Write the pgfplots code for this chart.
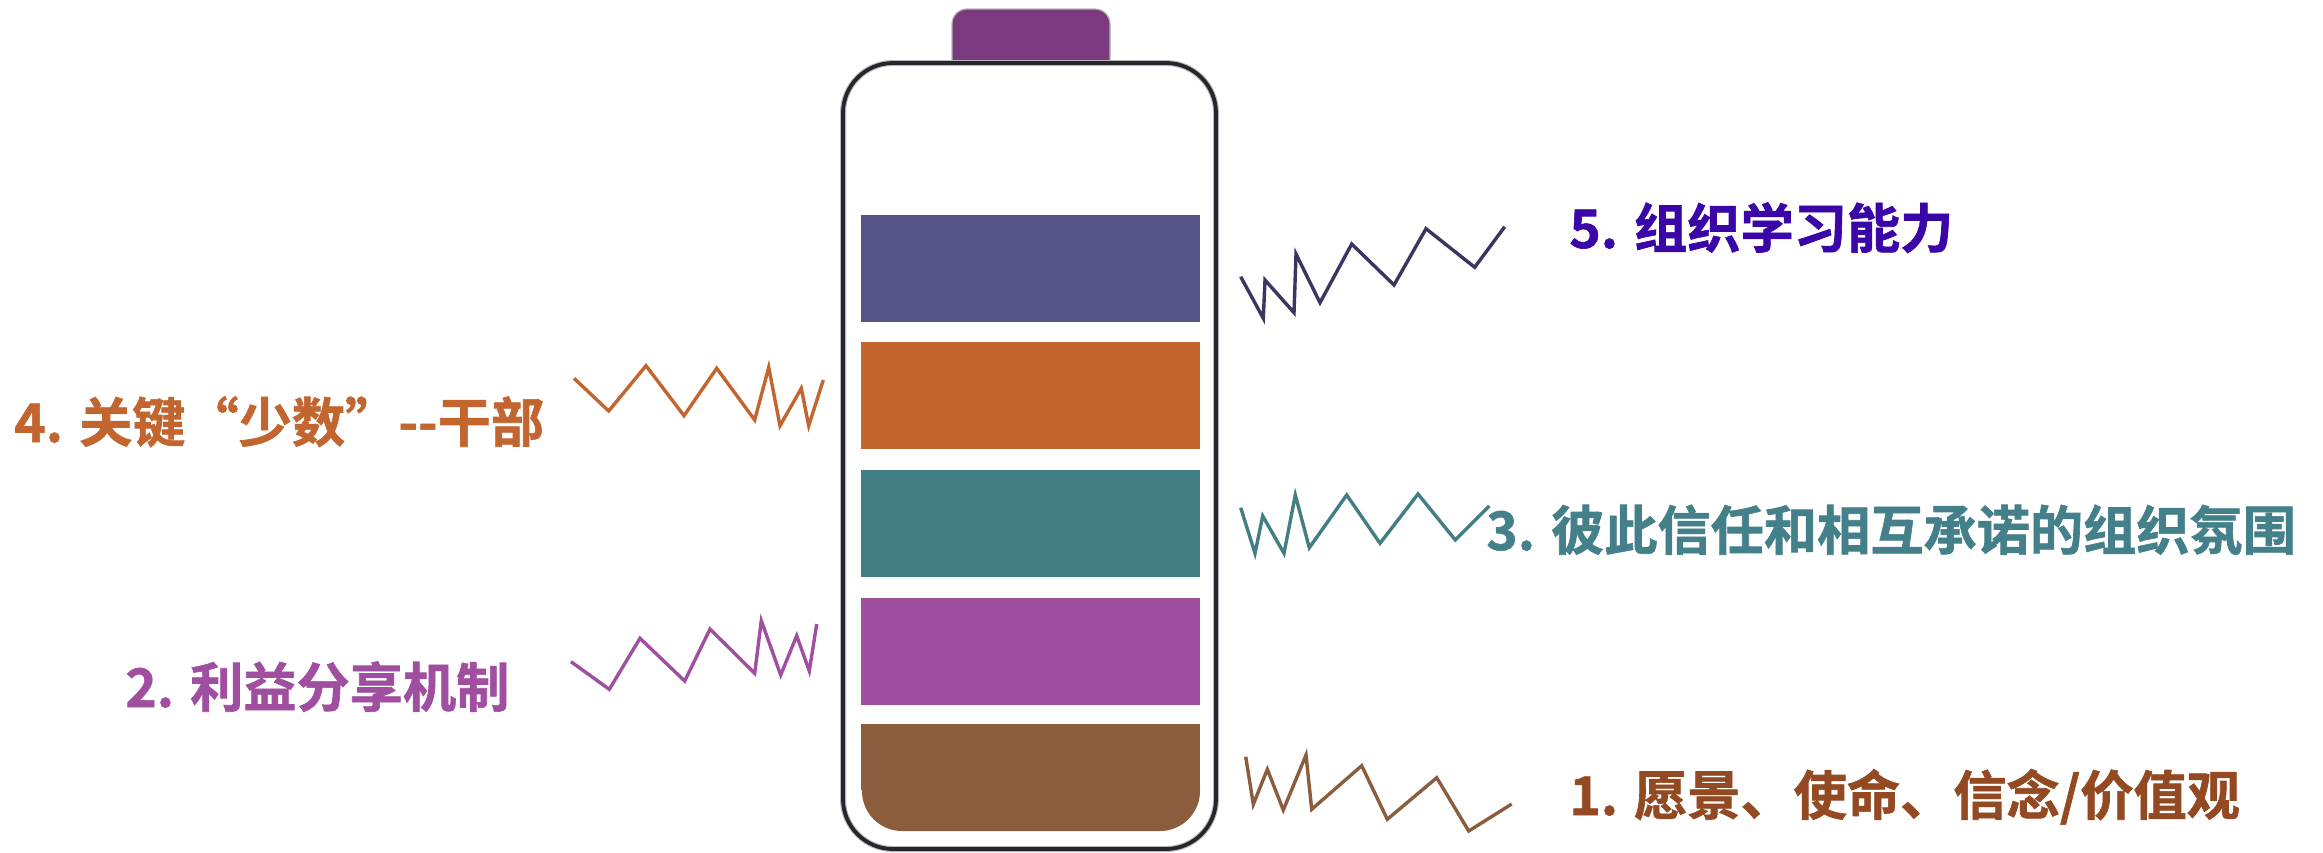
\documentclass[border=0pt]{standalone}
\usepackage{pgfplots}
\pgfplotsset{compat=1.18}
\usepackage{fontspec}
\newfontfamily\cjk{Noto Sans CJK SC Bold}[FakeBold=1.2]
\definecolor{capc}{HTML}{7B3A7D}
\definecolor{bodyc}{HTML}{25252D}
\definecolor{barfive}{HTML}{545488}
\definecolor{barfour}{HTML}{C3652F}
\definecolor{barthree}{HTML}{437E84}
\definecolor{bartwo}{HTML}{A04EA0}
\definecolor{barone}{HTML}{8B5D3D}
\definecolor{zfive}{HTML}{3A3660}
\definecolor{tfive}{HTML}{3A06A8}
\definecolor{tthree}{HTML}{44808A}
\definecolor{tone}{HTML}{934A22}
\begin{document}
\begin{tikzpicture}
\begin{axis}[at={(0,0)}, anchor=south west, scale only axis,
  width=1161.5pt, height=426pt,
  xmin=0, xmax=2323, ymin=0, ymax=852, y dir=reverse,
  hide axis, clip=false]
% cap
\addplot[draw=gray!60, line width=0.6pt, fill=capc, mark=none, rounded corners=7.5pt]
  coordinates {(1031,9) (1110,9) (1110,80) (952,80) (952,9)} -- cycle;
% body halo + outline
\addplot[draw=gray!55, line width=3pt, fill=white, mark=none, rounded corners=25pt]
  coordinates {(1029.5,63) (1216,63) (1216,849) (843,849) (843,63)} -- cycle;
\addplot[draw=bodyc, line width=1.9pt, mark=none, rounded corners=25pt]
  coordinates {(1029.5,63) (1216,63) (1216,849) (843,849) (843,63)} -- cycle;
% bars
\addplot[draw=none, fill=barfive, mark=none] coordinates {(861,215) (1200,215) (1200,322) (861,322)} -- cycle;
\addplot[draw=none, fill=barfour, mark=none] coordinates {(861,342) (1200,342) (1200,449) (861,449)} -- cycle;
\addplot[draw=none, fill=barthree, mark=none] coordinates {(861,470) (1200,470) (1200,577) (861,577)} -- cycle;
\addplot[draw=none, fill=bartwo, mark=none] coordinates {(861,598) (1200,598) (1200,705) (861,705)} -- cycle;
\addplot[draw=none, fill=barone, mark=none] coordinates {(861,724) (1200,724) (1200,790) (861,790)} -- cycle;
\addplot[draw=none, fill=barone, mark=none, rounded corners=20pt]
  coordinates {(1030,750) (1200,750) (1200,831) (862,831) (862,750)} -- cycle;
% zigzags
\addplot[zfive, line width=1.7pt, mark=none] coordinates {
(1240.7,276.7) (1263.3,318.3) (1265,280) (1294,312.7) (1296,254) (1320,302.7)
(1351.7,244) (1394,285) (1426,228.7) (1474.7,267.3) (1504.7,226.7)};
\addplot[barthree, line width=1.7pt, mark=none] coordinates {
(1240.7,507.7) (1255,553.3) (1262.7,516) (1284,553.3) (1295.3,495) (1309.3,547.7)
(1346.7,495) (1380,543.3) (1418,494) (1455.3,540) (1489.3,506)};
\addplot[barfour, line width=1.7pt, mark=none] coordinates {
(574,378.3) (608.7,411) (646,365.7) (684,415.7) (716.7,368.3) (754.7,420)
(768.7,367.3) (780,425.7) (801.3,388.3) (808.7,425.7) (823.3,380)};
\addplot[bartwo, line width=1.7pt, mark=none] coordinates {
(571,661.7) (609.3,689.3) (640,638.3) (684.7,681) (710,629) (754.7,673.3)
(761.3,620.7) (780.7,675) (796.7,635.7) (809.3,671) (816.7,624)};
\addplot[barone, line width=1.7pt, mark=none] coordinates {
(1245.7,756.7) (1253.3,804.3) (1267.3,769.3) (1283.3,810) (1306,755) (1311.7,809.3)
(1361.7,765.7) (1387.3,819.3) (1436.7,777.7) (1468.7,831) (1511.7,804)};
% labels
\tikzset{lab/.style={anchor=base west, inner sep=0pt, font=\cjk\fontsize{26.6pt}{30pt}\selectfont}}
\node[lab, text=tfive] at (axis cs:1569,248) {5. 组织学习能力};
\node[lab, text=barfour] at (axis cs:14,442) {4. 关键{\addfontfeature{CharacterWidth=Full}“}少数{\addfontfeature{CharacterWidth=Full}”}{-}{-}干部};
\node[lab, text=tthree] at (axis cs:1486,550) {3. 彼此信任和相互承诺的组织氛围};
\node[lab, text=bartwo] at (axis cs:125,707) {2. 利益分享机制};
\node[lab, text=tone] at (axis cs:1569,815) {1. 愿景、使命、信念/价值观};
\end{axis}
\pgfresetboundingbox
\path (0,0) rectangle (1161.5pt,426pt);
\end{tikzpicture}
\end{document}
